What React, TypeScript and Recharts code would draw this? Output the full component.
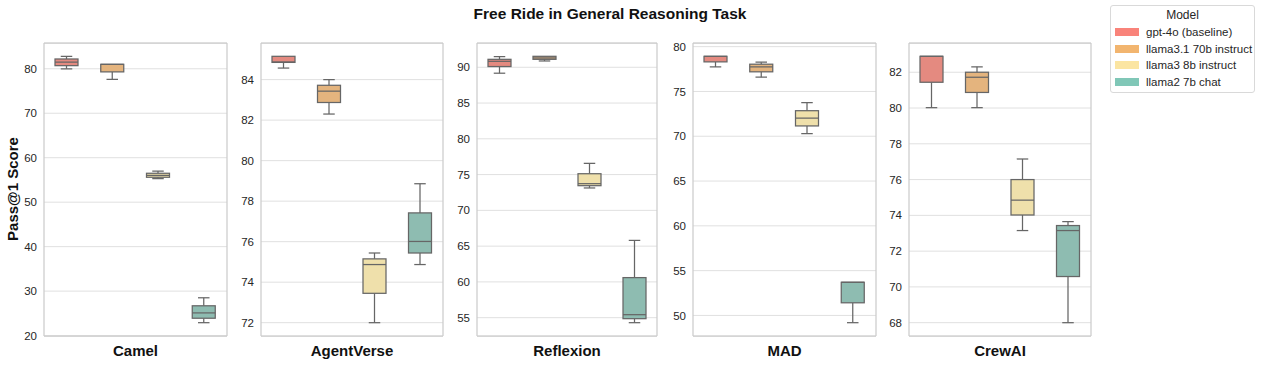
import React from 'react';
import { ComposedChart, Bar, XAxis, YAxis, CartesianGrid } from 'recharts';

const models = ['gpt-4o (baseline)', 'llama3.1 70b instruct', 'llama3 8b instruct', 'llama2 7b chat'];
const legendColors = ['#f9837a', '#f2b56f', '#fbe5a2', '#80c7b7'];
const boxColors = ['#e48a80', '#e4b47e', '#efe0ab', '#8ebcb1'];

// [min, q1, median, q3, max] per model
const camelStats = [
  [80.0, 80.7, 81.5, 82.2, 82.8],
  [77.6, 79.3, 81.0, 81.0, 81.0],
  [55.3, 55.6, 56.0, 56.5, 57.0],
  [22.9, 23.9, 25.1, 26.7, 28.5],
];
const agentVerseStats = [
  [84.57, 84.85, 84.87, 85.15, 85.15],
  [82.3, 82.87, 83.43, 83.72, 84.0],
  [72.0, 73.45, 74.87, 75.15, 75.44],
  [74.87, 75.44, 76.01, 77.42, 78.86],
];
const reflexionStats = [
  [89.17, 90.1, 90.83, 91.11, 91.49],
  [90.88, 91.11, 91.3, 91.53, 91.53],
  [73.13, 73.45, 73.73, 75.12, 76.57],
  [54.3, 54.86, 55.42, 60.6, 65.8],
];
const madStats = [
  [77.74, 78.3, 78.92, 78.92, 78.92],
  [76.59, 77.19, 77.74, 78.04, 78.26],
  [70.3, 71.15, 72.03, 72.85, 73.74],
  [49.19, 51.41, 53.7, 53.7, 53.7],
];
const crewAIStats = [
  [80.02, 81.44, 82.89, 82.89, 82.89],
  [80.02, 80.87, 81.72, 82.0, 82.3],
  [73.15, 74.02, 74.85, 76.0, 77.15],
  [68.0, 70.58, 73.15, 73.43, 73.65],
];

const camelTicks = [20, 30, 40, 50, 60, 70, 80];
const agentVerseTicks = [72, 74, 76, 78, 80, 82, 84];
const reflexionTicks = [55, 60, 65, 70, 75, 80, 85, 90];
const madTicks = [50, 55, 60, 65, 70, 75, 80];
const crewAITicks = [68, 70, 72, 74, 76, 78, 80, 82];

const FONT = "Arial, 'Liberation Sans', sans-serif";
const EDGE = '#666666';
const SPINE = '#cccccc';
const PLOT_TOP = 43;
const PLOT_H = 293;
const Y_W = 35;
const M_TOP = 10;
const M_BOT = 10;
const M_RIGHT = 5;

const panels = [
  { name: 'Camel', stats: camelStats, ticks: camelTicks, left: 44, right: 227 },
  { name: 'AgentVerse', stats: agentVerseStats, ticks: agentVerseTicks, left: 261, right: 443 },
  { name: 'Reflexion', stats: reflexionStats, ticks: reflexionTicks, left: 477, right: 657 },
  { name: 'MAD', stats: madStats, ticks: madTicks, left: 693, right: 876 },
  { name: 'CrewAI', stats: crewAIStats, ticks: crewAITicks, left: 909, right: 1091 },
];

const BoxShape = (props: any) => {
  const { x, y, width, height, payload } = props;
  const [lo, q1, med, q3, hi] = payload.stats;
  const span = hi - lo;
  const py = (v: number) => (span === 0 ? y : y + ((hi - v) / span) * height);
  const cx = x + width / 2;
  const cap = width / 4;
  return (
    <g>
      <line x1={cx} x2={cx} y1={py(hi)} y2={py(q3)} stroke={EDGE} strokeWidth={1.25} />
      <line x1={cx} x2={cx} y1={py(q1)} y2={py(lo)} stroke={EDGE} strokeWidth={1.25} />
      {hi > q3 && <line x1={cx - cap} x2={cx + cap} y1={py(hi)} y2={py(hi)} stroke={EDGE} strokeWidth={1.25} />}
      {lo < q1 && <line x1={cx - cap} x2={cx + cap} y1={py(lo)} y2={py(lo)} stroke={EDGE} strokeWidth={1.25} />}
      <rect x={x} y={py(q3)} width={width} height={Math.max(py(q1) - py(q3), 1)} fill={payload.fill} stroke={EDGE} strokeWidth={1.25} />
      <line x1={x} x2={x + width} y1={py(med)} y2={py(med)} stroke={EDGE} strokeWidth={1.25} />
    </g>
  );
};

const Panel = ({ panel }: { panel: typeof panels[number] }) => {
  const data = models.map((m, i) => ({ model: m, stats: panel.stats[i], fill: boxColors[i] }));
  const all = panel.stats.flat();
  const mn = Math.min(...all);
  const mx = Math.max(...all);
  const pad = (mx - mn) * 0.05;
  const domain = [mn - pad, mx + pad];
  const plotW = panel.right - panel.left;
  const axisLine = { stroke: SPINE, strokeWidth: 1.25 };
  return (
    <div style={{ position: 'absolute', left: panel.left - Y_W, top: PLOT_TOP - M_TOP }}>
      <ComposedChart
        width={plotW + Y_W + M_RIGHT}
        height={PLOT_H + M_TOP + M_BOT}
        data={data}
        margin={{ top: M_TOP - 1, right: M_RIGHT - 1, bottom: M_BOT - 1, left: 0 }}
      >
        <CartesianGrid vertical={false} stroke="#e0e0e0" strokeWidth={1} yAxisId="l" xAxisId="b" />
        <XAxis xAxisId="b" dataKey="model" tick={false} tickLine={false} height={1} axisLine={axisLine} />
        <XAxis xAxisId="t" dataKey="model" orientation="top" tick={false} tickLine={false} height={1} axisLine={axisLine} />
        <YAxis
          yAxisId="l"
          type="number"
          domain={domain}
          ticks={panel.ticks}
          interval={0}
          width={Y_W}
          tickLine={false}
          tickSize={0}
          axisLine={axisLine}
          tickMargin={7}
          tick={{ fontSize: 11.5, fill: '#262626', fontFamily: FONT }}
          allowDataOverflow
        />
        <YAxis yAxisId="r" orientation="right" type="number" domain={domain} width={1} tick={false} tickLine={false} axisLine={axisLine} allowDataOverflow />
        <Bar
          xAxisId="b"
          yAxisId="l"
          dataKey={(d: any) => [d.stats[0], d.stats[4]]}
          barSize={Math.round(plotW / 8)}
          shape={BoxShape}
          isAnimationActive={false}
        />
      </ComposedChart>
      <div
        style={{
          position: 'absolute',
          left: Y_W,
          width: plotW,
          top: M_TOP + PLOT_H + 6,
          textAlign: 'center',
          fontFamily: FONT,
          fontWeight: 'bold',
          fontSize: 15,
          color: '#111',
        }}
      >
        {panel.name}
      </div>
    </div>
  );
};

export default function App() {
  return (
    <div style={{ position: 'absolute', left: 0, top: 0, width: 1262, height: 365, background: '#fff', fontFamily: FONT }}>
      <div style={{ position: 'absolute', left: 410, width: 400, top: 5, textAlign: 'center', fontWeight: 'bold', fontSize: 15.5, color: '#111' }}>
        Free Ride in General Reasoning Task
      </div>
      <div
        style={{
          position: 'absolute',
          left: 12,
          top: 189,
          transform: 'translate(-50%, -50%) rotate(-90deg)',
          whiteSpace: 'nowrap',
          fontWeight: 'bold',
          fontSize: 15,
          color: '#111',
        }}
      >
        Pass@1 Score
      </div>
      {panels.map((p) => (
        <Panel key={p.name} panel={p} />
      ))}
      <div
        style={{
          position: 'absolute',
          left: 1110,
          top: 5,
          width: 145,
          height: 88,
          border: '1px solid #d9d9d9',
          borderRadius: 3,
          boxSizing: 'border-box',
          fontSize: 11.5,
          color: '#262626',
        }}
      >
        <div style={{ textAlign: 'center', fontSize: 12, marginTop: 2, height: 16 }}>Model</div>
        {models.map((m, i) => (
          <div key={m} style={{ display: 'flex', alignItems: 'center', height: 16.5, paddingLeft: 4 }}>
            <span style={{ display: 'inline-block', width: 24, height: 8, background: legendColors[i], marginRight: 7 }} />
            <span>{m}</span>
          </div>
        ))}
      </div>
    </div>
  );
}
